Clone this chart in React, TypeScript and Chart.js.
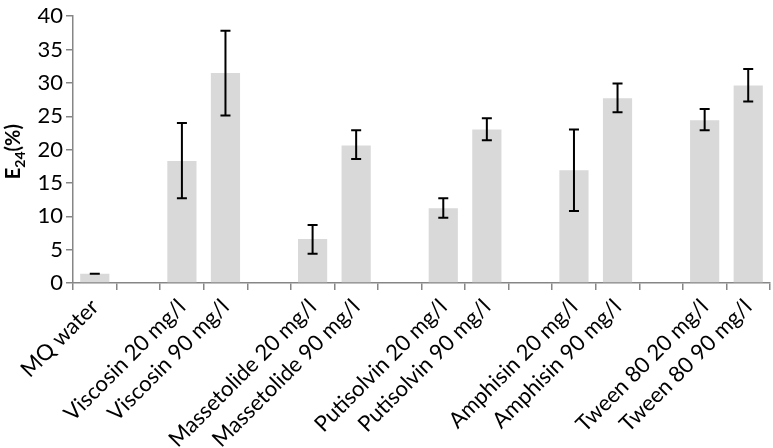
import React, { useEffect, useRef } from "react";
import { Chart, registerables } from "chart.js";

Chart.register(...registerables);

const categories = [
  "MQ water", "",
  "Viscosin 20 mg/l", "Viscosin 90 mg/l", "",
  "Massetolide 20 mg/l", "Massetolide 90 mg/l", "",
  "Putisolvin 20 mg/l", "Putisolvin 90 mg/l", "",
  "Amphisin 20 mg/l", "Amphisin 90 mg/l", "",
  "Tween 80 20 mg/l", "Tween 80 90 mg/l",
];
const values = [1.4, null, 18.3, 31.5, null, 6.6, 20.6, null, 11.2, 23.0, null, 16.9, 27.7, null, 24.4, 29.6];
const errLow = [1.4, null, 12.7, 25.1, null, 4.4, 18.6, null, 9.8, 21.4, null, 10.8, 25.6, null, 22.9, 27.2];
const errHigh = [1.4, null, 24.0, 37.8, null, 8.7, 22.9, null, 12.7, 24.7, null, 23.0, 29.9, null, 26.1, 32.1];
const yTicks = [0, 5, 10, 15, 20, 25, 30, 35, 40];

const FONT = "Lato, 'Open Sans', sans-serif";
const AXIS = "#868686";

const errorBars = {
  id: "errorBars",
  afterDatasetsDraw(chart: any) {
    const meta = chart.getDatasetMeta(0);
    const y = chart.scales.y;
    const ctx = chart.ctx;
    ctx.save();
    ctx.strokeStyle = "#000";
    ctx.lineWidth = 2;
    values.forEach((v, i) => {
      if (v === null) return;
      const bar = meta.data[i];
      const x = bar.x;
      const yl = y.getPixelForValue(errLow[i] as number);
      const yh = y.getPixelForValue(errHigh[i] as number);
      const cap = 5;
      ctx.beginPath();
      if (yh !== yl) {
        ctx.moveTo(x, yl);
        ctx.lineTo(x, yh);
      }
      ctx.moveTo(x - cap, yh);
      ctx.lineTo(x + cap, yh);
      ctx.moveTo(x - cap, yl);
      ctx.lineTo(x + cap, yl);
      ctx.stroke();
    });
    ctx.restore();
  },
};

const axisTitle = {
  id: "axisTitle",
  afterDraw(chart: any) {
    const ctx = chart.ctx;
    const area = chart.chartArea;
    ctx.save();
    ctx.fillStyle = "#000";
    ctx.textBaseline = "alphabetic";
    ctx.textAlign = "left";
    const big = `bold 20px ${FONT}`;
    const small = `bold 14px ${FONT}`;
    ctx.font = big;
    const wE = ctx.measureText("E").width;
    const wP = ctx.measureText("(%)").width;
    ctx.font = small;
    const wS = ctx.measureText("24").width;
    const total = wE + wS + wP;
    ctx.translate(20, (area.top + area.bottom) / 2 + 2);
    ctx.rotate(-Math.PI / 2);
    let x = -total / 2;
    ctx.font = big;
    ctx.fillText("E", x, 0);
    x += wE;
    ctx.font = small;
    ctx.fillText("24", x, 5);
    x += wS;
    ctx.font = big;
    ctx.fillText("(%)", x, 0);
    ctx.restore();
  },
};

export default function App() {
  const ref = useRef<HTMLCanvasElement>(null);
  useEffect(() => {
    if (!ref.current) return;
    const chart = new Chart(ref.current, {
      type: "bar",
      data: {
        labels: categories,
        datasets: [
          {
            data: values as any,
            backgroundColor: "#d9d9d9",
            borderWidth: 0,
            barPercentage: 0.67,
            categoryPercentage: 1,
          },
        ],
      },
      options: {
        animation: false,
        responsive: true,
        maintainAspectRatio: false,
        layout: { padding: { top: 15, right: 3, bottom: 0, left: 0 } },
        plugins: { legend: { display: false }, tooltip: { enabled: false } },
        scales: {
          x: {
            afterFit(scale: any) {
              scale.height = 165;
            },
            grid: {
              display: true,
              drawOnChartArea: false,
              drawTicks: true,
              tickLength: 7,
              color: AXIS,
              lineWidth: 1.5,
              offset: true,
            },
            border: { color: AXIS, width: 1.5 },
            ticks: {
              autoSkip: false,
              minRotation: 45,
              maxRotation: 45,
              color: "#000",
              font: { family: FONT, size: 22 },
              padding: 4,
            },
          },
          y: {
            min: 0,
            max: 40,
            afterFit(scale: any) {
              scale.width = 73;
            },
            afterBuildTicks(scale: any) {
              scale.ticks = yTicks.map((v) => ({ value: v }));
            },
            grid: {
              display: true,
              drawOnChartArea: false,
              drawTicks: true,
              tickLength: 7,
              color: AXIS,
              lineWidth: 1.5,
            },
            border: { color: AXIS, width: 1.5 },
            ticks: {
              color: "#000",
              font: { family: FONT, size: 22 },
              padding: 3,
            },
          },
        },
      },
      plugins: [errorBars, axisTitle],
    });
    return () => chart.destroy();
  }, []);
  return (
    <div style={{ position: "fixed", left: 0, top: 0, width: 773, height: 448, background: "#fff" }}>
      <canvas ref={ref} />
    </div>
  );
}
